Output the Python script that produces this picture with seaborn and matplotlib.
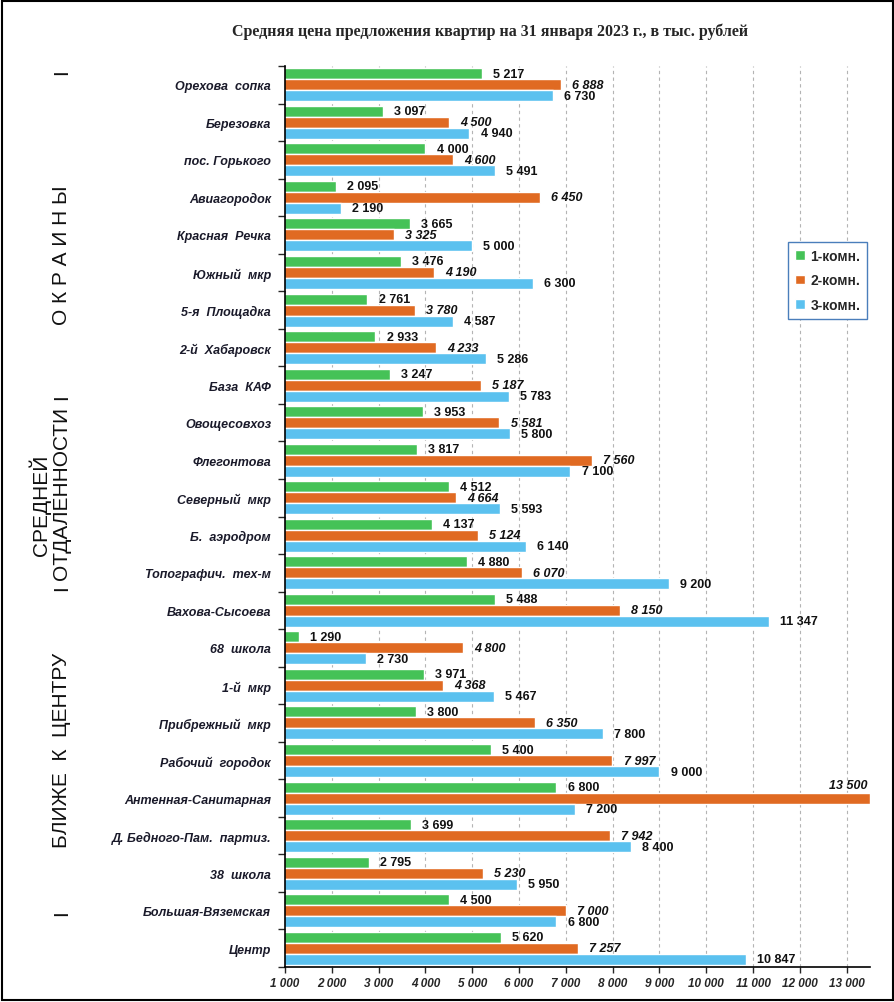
import matplotlib
matplotlib.use('Agg')
import matplotlib.pyplot as plt
from matplotlib.ticker import FuncFormatter, MultipleLocator, FixedLocator
from matplotlib.patches import Rectangle
import seaborn as sns
import pandas as pd
import numpy as np

# --- data ---
districts = ['Орехова  сопка', 'Березовка', 'пос. Горького', 'Авиагородок', 'Красная  Речка',
             'Южный  мкр', '5-я  Площадка', '2-й  Хабаровск', 'База  КАФ', 'Овощесовхоз',
             'Флегонтова', 'Северный  мкр', 'Б.  аэродром', 'Топографич.  тех-м', 'Вахова-Сысоева',
             '68  школа', '1-й  мкр', 'Прибрежный  мкр', 'Рабочий  городок', 'Антенная-Санитарная',
             'Д. Бедного-Пам.  партиз.', '38  школа', 'Большая-Вяземская', 'Центр']
room1 = [5217, 3097, 4000, 2095, 3665, 3476, 2761, 2933, 3247, 3953, 3817, 4512, 4137, 4880,
         5488, 1290, 3971, 3800, 5400, 6800, 3699, 2795, 4500, 5620]
room2 = [6888, 4500, 4600, 6450, 3325, 4190, 3780, 4233, 5187, 5581, 7560, 4664, 5124, 6070,
         8150, 4800, 4368, 6350, 7997, 13500, 7942, 5230, 7000, 7257]
room3 = [6730, 4940, 5491, 2190, 5000, 6300, 4587, 5286, 5783, 5800, 7100, 5593, 6140, 9200,
         11347, 2730, 5467, 7800, 9000, 7200, 8400, 5950, 6800, 10847]
types = ['1-комн.', '2-комн.', '3-комн.']
colors = ['#45c257', '#e06a22', '#5bc1ef']
x_max = 13500

df = pd.DataFrame({
    'district': districts * 3,
    'type': np.repeat(types, len(districts)),
    'price': room1 + room2 + room3,
})

def fmt_num(v, pos=None):
    return f'{int(round(v)):,}'.replace(',', ' ')

sns.set_style('white')
plt.rcParams['font.family'] = ['Liberation Sans', 'DejaVu Sans']

fig = plt.figure(figsize=(8.95, 10.03), dpi=100)
ax = fig.add_axes([285/895, 1 - 968/1003, 585/895, 901/1003])

sns.barplot(data=df, y='district', x='price', hue='type', orient='h',
            palette=colors, width=0.88, saturation=1, ax=ax, zorder=2)

ax.set_xlim(1000, x_max)
ax.xaxis.set_major_locator(MultipleLocator(1000))
ax.xaxis.set_major_formatter(FuncFormatter(fmt_num))
ax.grid(axis='x', color='#b4b4b4', linestyle=(0, (3, 3)), linewidth=0.8, zorder=0)
ax.set_axisbelow(True)
ax.set_xlabel('')
ax.set_ylabel('')

for lab in ax.get_xticklabels():
    lab.set_fontweight('bold')
    lab.set_fontstyle('italic')
    lab.set_fontsize(8.5)
ax.tick_params(axis='x', direction='out', length=4, width=1, pad=3, bottom=True)

ax.tick_params(axis='y', which='major', length=0, pad=10)
ax.yaxis.set_minor_locator(FixedLocator(np.arange(-0.5, len(districts), 1)))
ax.tick_params(axis='y', which='minor', direction='out', length=5, width=1, left=True)
for lab in ax.get_yticklabels():
    lab.set_fontweight('bold')
    lab.set_fontstyle('italic')
    lab.set_fontsize(9)
    lab.set_color('#1a1a2a')

for s in ['top', 'right']:
    ax.spines[s].set_visible(False)
for s in ['left', 'bottom']:
    ax.spines[s].set_color('black')
    ax.spines[s].set_linewidth(1.2)

for i, cont in enumerate(ax.containers):
    style = 'italic' if i == 1 else 'normal'
    labels = []
    for b in cont:
        w = b.get_width()
        if w >= x_max:
            # no room on the right: put it above the bar end
            labels.append('')
            ax.annotate(fmt_num(w), (w, b.get_y()), xytext=(-2, 1), textcoords='offset points',
                        ha='right', va='bottom', fontsize=9, fontweight='bold',
                        fontstyle=style, color='#111111')
        else:
            labels.append(fmt_num(w))
    ax.bar_label(cont, labels=labels, padding=8, fontsize=9, fontweight='bold',
                 fontstyle=style, color='#111111')

leg = ax.legend(loc='upper left', bbox_to_anchor=((788-285)/585, (968-243)/901),
                frameon=True, fancybox=False, framealpha=1, fontsize=10,
                handlelength=0.7, handleheight=0.7, handletextpad=0.4,
                labelspacing=0.75, borderpad=0.5, borderaxespad=0)
leg.get_frame().set_edgecolor('#4a7ebb')
leg.get_frame().set_linewidth(1)
for t in leg.get_texts():
    t.set_fontweight('bold')

fig.text(490/895, 1 - 32/1003, 'Средняя цена предложения квартир на 31 января 2023 г., в тыс. рублей',
         ha='center', va='center', fontsize=11.5, fontweight='bold', family='Liberation Serif')

# group labels on the left
def side(x, y, s):
    fig.text(x/895, 1 - y/1003, s, rotation=90, ha='center', va='center', fontsize=15, color='#111111')

side(62, 72, 'I')
side(62, 255, 'О К Р А И Н Ы')
side(62, 397, 'I')
side(62, 493, 'ОТДАЛЕННОСТИ')
side(62, 588, 'I')
side(40, 505, 'СРЕДНЕЙ')
side(62, 750, 'БЛИЖЕ  К  ЦЕНТРУ')
side(62, 913, 'I')

fig.patches.append(Rectangle((0.002, 0.002), 0.996, 0.996, transform=fig.transFigure,
                             fill=False, edgecolor='black', linewidth=1.5))

fig.savefig('out.png', dpi=100)
